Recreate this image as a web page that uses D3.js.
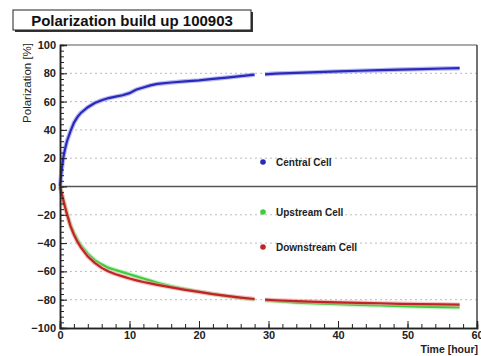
<!DOCTYPE html>
<html>
<head>
<meta charset="utf-8">
<script src="https://cdn.jsdelivr.net/npm/d3@7"></script>
<style>
  body { margin: 0; background: #fff; }
  svg { display: block; font-family: 'Liberation Sans', Arial, sans-serif; }
</style>
</head>
<body>
<svg id="chart" width="481" height="356"></svg>
<script>
// time in hours, null marks the short gap in the run
const times = [0, 0.25, 0.5, 0.75, 1, 1.5, 2, 2.5, 3, 4, 5, 6, 7, 8, 9, 10, 11, 12, 13, 14,
  16, 18, 20, 22, 24, 26, 28, 28.8, 29.5, 31, 34, 37, 40, 43, 46, 49, 52, 55, 57.5];
const central = [0, 12, 21, 27, 32, 39, 45, 49, 52, 56, 59, 61, 62.5, 63.5, 64.5, 66, 68.5, 70, 71.5, 72.5,
  73.5, 74.3, 75, 76, 77, 78, 79, null, 79.3, 79.8, 80.3, 80.8, 81.3, 81.8, 82.2, 82.6, 83, 83.4, 83.6];
const upstream = [0, -5, -10, -14.5, -19, -27, -33, -37.5, -41.5, -47.5, -52, -55, -57.5, -59, -60.5, -62, -63.5, -65, -66.5, -68,
  -70.5, -72.5, -74.3, -76, -77.5, -78.8, -79.8, null, -80.5, -81, -82, -82.7, -83.2, -83.7, -84.1, -84.5, -84.9, -85.2, -85.4];
const downstream = [0, -5, -10, -15, -19.5, -28, -34, -39, -43, -49.5, -54, -57.5, -60, -62, -63.5, -65, -66.3, -67.5, -68.5, -69.5,
  -71.3, -73, -74.5, -76, -77.3, -78.5, -79.5, null, -80, -80.4, -81, -81.5, -81.9, -82.2, -82.5, -82.9, -83.1, -83.3, -83.5];

const xTicks = [0, 10, 20, 30, 40, 50, 60];
const yTicks = [-100, -80, -60, -40, -20, 0, 20, 40, 60, 80, 100];

const series = [
  { name: 'Central Cell', values: central, color: '#2a2ab8', halo: '#8a8af0' },
  { name: 'Upstream Cell', values: upstream, color: '#3ccc3c', halo: '#a8f0a8' },
  { name: 'Downstream Cell', values: downstream, color: '#c02424', halo: '#f0a0a0' }
];

const svg = d3.select('#chart');
const plotL = 60, plotR = 477, plotT = 45, plotB = 328;

const x = d3.scaleLinear().domain([0, 60]).range([plotL, plotR]);
const y = d3.scaleLinear().domain([-100, 100]).range([plotB, plotT]);

// dashed grid lines
svg.append('g')
  .selectAll('line')
  .data(yTicks.filter(v => v !== 0 && v !== 100 && v !== -100))
  .join('line')
  .attr('x1', plotL).attr('x2', plotR)
  .attr('y1', d => y(d)).attr('y2', d => y(d))
  .attr('stroke', '#bbb')
  .attr('stroke-width', 1)
  .attr('stroke-dasharray', '2,3');

// top and zero lines
svg.append('line')
  .attr('x1', plotL).attr('x2', plotR).attr('y1', y(100)).attr('y2', y(100))
  .attr('stroke', '#aaa').attr('stroke-width', 2);
svg.append('line')
  .attr('x1', plotL).attr('x2', plotR).attr('y1', y(0)).attr('y2', y(0))
  .attr('stroke', '#555').attr('stroke-width', 1.5);
// right frame
svg.append('line')
  .attr('x1', plotR).attr('x2', plotR).attr('y1', y(100)).attr('y2', y(-100))
  .attr('stroke', '#444').attr('stroke-width', 1.5);

// curves
const line = d3.line()
  .defined(d => d[1] != null)
  .x(d => x(d[0]))
  .y(d => y(d[1]));

series.forEach(s => {
  const pts = times.map((t, i) => [t, s.values[i]]);
  svg.append('path').datum(pts)
    .attr('d', line).attr('fill', 'none')
    .attr('stroke', s.halo).attr('stroke-width', 4.5).attr('opacity', 0.6);
  svg.append('path').datum(pts)
    .attr('d', line).attr('fill', 'none')
    .attr('stroke', s.color).attr('stroke-width', 2.2);
});

// axes (ROOT style: ticks inside)
const yAxis = d3.axisLeft(y).tickValues(yTicks).tickSize(-7).tickPadding(4);
const yMinor = d3.axisLeft(y).tickValues(d3.range(-100, 101, 4)).tickSize(-4).tickFormat('');
const xAxis = d3.axisBottom(x).tickValues(xTicks).tickSize(-7).tickPadding(3);
const xMinor = d3.axisBottom(x).tickValues(d3.range(0, 61, 2)).tickSize(-4).tickFormat('');

function styleAxis(g) {
  g.select('.domain').attr('stroke', '#222').attr('stroke-width', 1.5);
  g.selectAll('line').attr('stroke', '#222');
  g.selectAll('text').attr('fill', '#222').attr('font-size', 11).attr('font-weight', 'bold');
}

svg.append('g').attr('transform', `translate(${plotL},0)`).call(yMinor).call(styleAxis);
svg.append('g').attr('transform', `translate(${plotL},0)`).call(yAxis).call(styleAxis);
svg.append('g').attr('transform', `translate(0,${plotB})`).call(xMinor).call(styleAxis);
svg.append('g').attr('transform', `translate(0,${plotB})`).call(xAxis).call(styleAxis);

// axis titles
svg.append('text')
  .attr('transform', `translate(31,${plotT - 2}) rotate(-90)`)
  .attr('text-anchor', 'end')
  .attr('font-size', 11.5)
  .attr('fill', '#222')
  .text('Polarization [%]');
svg.append('text')
  .attr('x', plotR + 1).attr('y', 353)
  .attr('text-anchor', 'end')
  .attr('font-size', 10.5).attr('font-weight', 'bold')
  .attr('fill', '#222')
  .text('Time [hour]');

// legend
const legendY = [162, 212, 247];
series.forEach((s, i) => {
  svg.append('circle')
    .attr('cx', 263).attr('cy', legendY[i])
    .attr('r', 2.8)
    .attr('fill', s.color);
  svg.append('text')
    .attr('x', 276).attr('y', legendY[i] + 4)
    .attr('font-size', 10).attr('font-weight', 'bold')
    .attr('fill', '#222')
    .text(s.name);
});

// title box
svg.append('rect').attr('x', 15).attr('y', 12).attr('width', 238).attr('height', 20).attr('fill', '#333');
svg.append('rect').attr('x', 13).attr('y', 10).attr('width', 238).attr('height', 20)
  .attr('fill', '#fff').attr('stroke', '#222').attr('stroke-width', 1);
svg.append('text')
  .attr('x', 132).attr('y', 26)
  .attr('text-anchor', 'middle')
  .attr('font-size', 15).attr('font-weight', 'bold')
  .attr('fill', '#111')
  .text('Polarization build up 100903');
</script>
</body>
</html>
